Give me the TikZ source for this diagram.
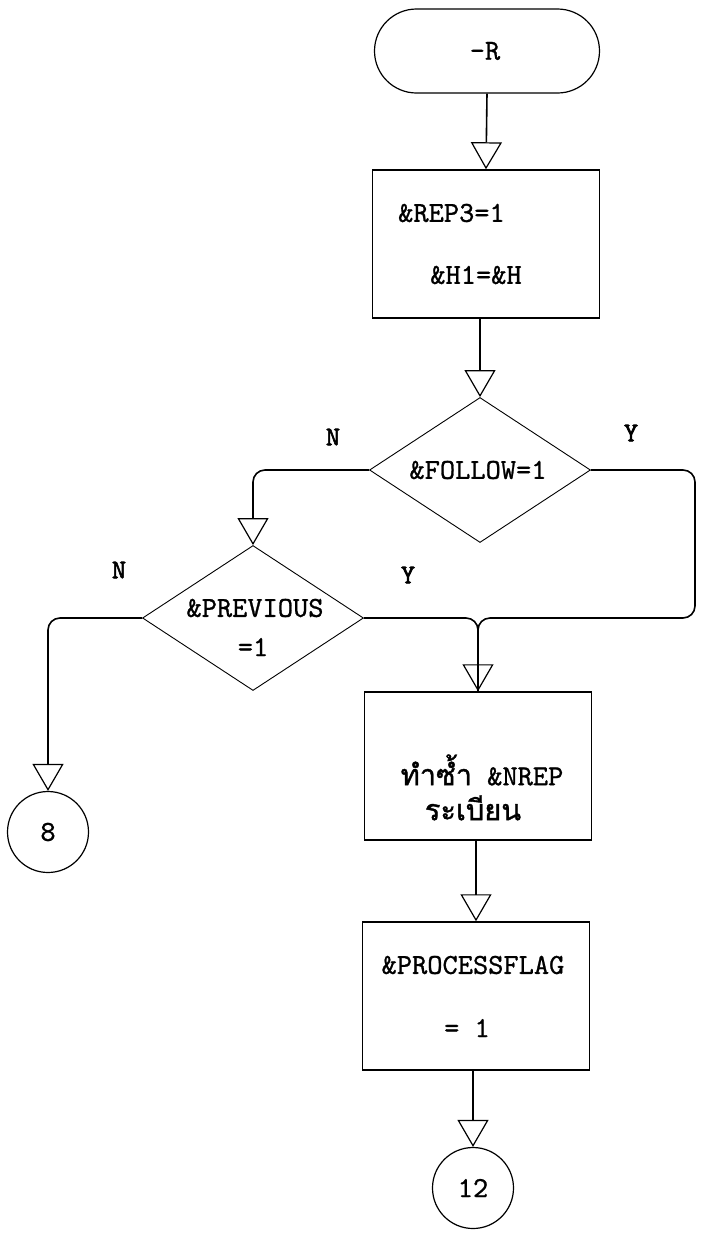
\documentclass[tikz,border=0pt]{standalone}
\usepackage{fontspec}
\newfontfamily\thaifont[Script=Thai,FakeBold=1.2]{Loma}
\newfontfamily\twfont[FakeBold=0.9]{lmmono10-regular.otf}
\newfontfamily\twbold[FakeBold=2.2]{lmmono10-regular.otf}
\usetikzlibrary{shapes.geometric,arrows.meta}
\begin{document}
\begin{tikzpicture}[x=1pt,y=-1pt,
  every node/.style={font=\twfont\fontsize{29}{32}\selectfont, inner sep=0pt},
  boxst/.style={draw, line width=1.5pt, minimum width=227pt, minimum height=148pt},
  diast/.style={draw, diamond, line width=0.9pt, minimum width=221pt, minimum height=145pt},
  circst/.style={draw, circle, line width=1.2pt, minimum size=81pt},
  termst/.style={draw, rectangle, rounded corners=42pt, line width=1.2pt, minimum width=225pt, minimum height=84pt},
  conn/.style={line width=1.6pt, -{Triangle[open, length=27pt, width=31pt, line width=1.2pt]}, rounded corners=12pt},
  plainconn/.style={line width=1.6pt, rounded corners=12pt},
  yn/.style={font=\twbold\fontsize{27}{30}\selectfont}]
\useasboundingbox (0,0) rectangle (702,1235);
% shapes
\node[termst] (term) at (487,51) {};
\node (tR) at (485,51) {-R};
\node[boxst] (box1) at (486,244) {};
\node[anchor=west] (t1a) at (398,213) {\&REP3=1};
\node (t1b) at (476,275) {\&H1=\&H};
\node[diast] (d1) at (480,470) {};
\node (t2) at (478,470) {\&FOLLOW=1};
\node[diast] (d2) at (253,618) {};
\node (t3a) at (255,608) {\&PREVIOUS};
\node (t3b) at (253,647) {=1};
\node[boxst] (box2) at (478,766) {};
\node (t4a) at (482,770) {{\thaifont ทำซ้ำ} \&NREP};
\node (t4b) at (473,808) {\thaifont ระเบียน};
\node[boxst] (box3) at (476,996) {};
\node (t5a) at (473,965) {\&PROCESSFLAG};
\node (t5b) at (467,1028) {= 1};
\node[circst] (c8) at (48,832) {8};
\node[circst] (c12) at (473,1188) {12};
% labels
\node[yn] (n1) at (333,437) {N};
\node[yn] (y1) at (631,433) {Y};
\node[yn] (n2) at (119,570) {N};
\node[yn] (y2) at (408,575) {Y};
% connectors
\draw[conn] (term.south) -- (box1.north);
\draw[conn] (d1.north |- box1.south) -- (d1.north);
\draw[conn] (d1.west) -| (d2.north);
\draw[conn] (d2.west) -| (c8.north);
\coordinate (rr) at (695,470);
\coordinate (jn) at (box2.north |- d2.east);
\draw[conn] (d1.east) -- (rr) -- (rr |- d2.east) -- (jn) -- (box2.north);
\draw[plainconn] (d2.east) -- (jn) -- (box2.north);
\draw[conn] (box3.north |- box2.south) -- (box3.north);
\draw[conn] (c12.north |- box3.south) -- (c12.north);
\end{tikzpicture}
\end{document}
